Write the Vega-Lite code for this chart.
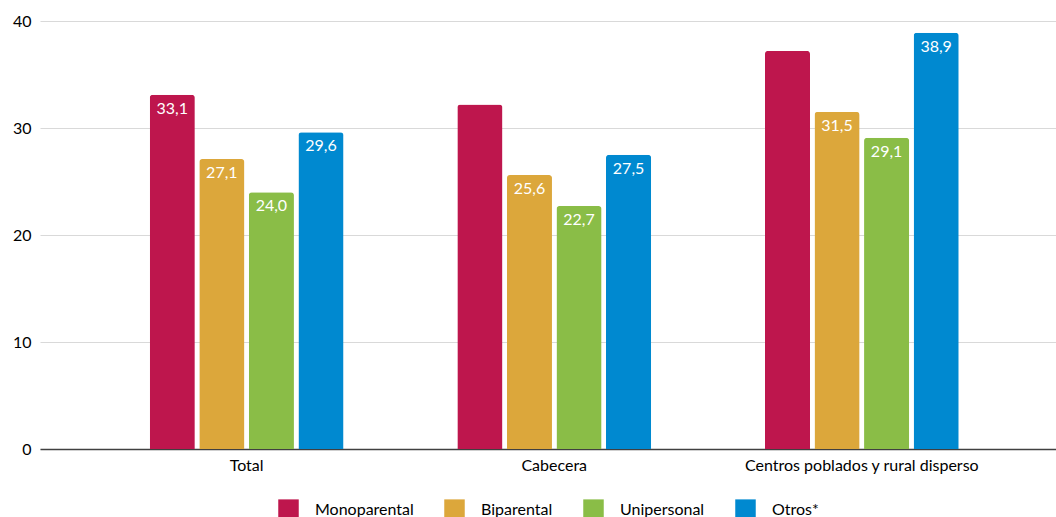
{
  "$schema": "https://vega.github.io/schema/vega-lite/v6.json",
  "width": 1016,
  "height": 428,
  "autosize": {"type": "none"},
  "padding": {"left": 40, "top": 21, "right": 0, "bottom": 68},
  "background": "white",
  "config": {
    "font": "Lato",
    "view": {"stroke": null},
    "axis": {"labelFont": "Lato", "labelColor": "#000000"},
    "legend": {"layout": {"bottom": {"anchor": "middle"}}}
  },
  "data": {
    "values": [
      {"zona": "Total", "tipo": "Monoparental", "valor": 33.1, "label": "33,1"},
      {"zona": "Total", "tipo": "Biparental", "valor": 27.1, "label": "27,1"},
      {"zona": "Total", "tipo": "Unipersonal", "valor": 24.0, "label": "24,0"},
      {"zona": "Total", "tipo": "Otros*", "valor": 29.6, "label": "29,6"},
      {"zona": "Cabecera", "tipo": "Monoparental", "valor": 32.2, "label": ""},
      {"zona": "Cabecera", "tipo": "Biparental", "valor": 25.6, "label": "25,6"},
      {"zona": "Cabecera", "tipo": "Unipersonal", "valor": 22.7, "label": "22,7"},
      {"zona": "Cabecera", "tipo": "Otros*", "valor": 27.5, "label": "27,5"},
      {"zona": "Centros poblados y rural disperso", "tipo": "Monoparental", "valor": 37.2, "label": ""},
      {"zona": "Centros poblados y rural disperso", "tipo": "Biparental", "valor": 31.5, "label": "31,5"},
      {"zona": "Centros poblados y rural disperso", "tipo": "Unipersonal", "valor": 29.1, "label": "29,1"},
      {"zona": "Centros poblados y rural disperso", "tipo": "Otros*", "valor": 38.9, "label": "38,9"}
    ]
  },
  "encoding": {
    "x": {
      "field": "zona", "type": "nominal", "sort": null,
      "scale": {"paddingInner": 0.37, "paddingOuter": 0.3365, "align": 0.53},
      "axis": {"title": null, "labelAngle": 0, "labelFontSize": 16, "labelLimit": 400, "labelPadding": 8, "ticks": false, "domainColor": "#404040", "domainWidth": 1.5}
    },
    "xOffset": {
      "field": "tipo", "type": "nominal", "sort": ["Monoparental", "Biparental", "Unipersonal", "Otros*"],
      "scale": {"paddingInner": 0.09, "paddingOuter": 0}
    },
    "y": {
      "field": "valor", "type": "quantitative",
      "scale": {"domain": [0, 40]},
      "axis": {"title": null, "values": [0, 10, 20, 30, 40], "labelOverlap": false, "labelFontSize": 16, "labelPadding": 9, "ticks": false, "domain": false, "gridColor": "#d9d9d9", "gridWidth": 1}
    }
  },
  "layer": [
    {
      "mark": {"type": "bar", "cornerRadiusTopLeft": 3, "cornerRadiusTopRight": 3},
      "encoding": {
        "color": {
          "field": "tipo", "type": "nominal",
          "sort": ["Monoparental", "Biparental", "Unipersonal", "Otros*"],
          "scale": {"domain": ["Monoparental", "Biparental", "Unipersonal", "Otros*"], "range": ["#BE164D", "#DCA73B", "#8ABD47", "#0089D0"]},
          "legend": {"title": null, "orient": "bottom", "direction": "horizontal", "symbolType": "square", "symbolSize": 420, "symbolStrokeWidth": 0, "labelFontSize": 16, "labelOffset": 16, "columnPadding": 30, "offset": 26, "labelColor": "#000000"}
        }
      }
    },
    {
      "mark": {"type": "text", "color": "white", "fontSize": 16, "baseline": "top", "dy": 6, "font": "Lato"},
      "encoding": {"text": {"field": "label"}}
    }
  ]
}
